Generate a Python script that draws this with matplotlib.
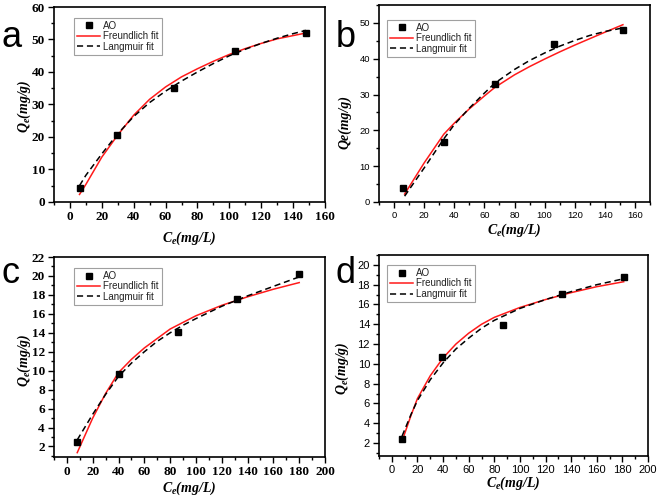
import matplotlib
matplotlib.use('Agg')
import matplotlib.pyplot as plt
from matplotlib.ticker import MultipleLocator

plt.rcParams['mathtext.fontset'] = 'custom'
plt.rcParams['mathtext.it'] = 'Liberation Serif:bold:italic'
plt.rcParams['mathtext.rm'] = 'Liberation Serif:bold'

# measured points (AO)
a_x = [6, 29.5, 65, 103.5, 148]
a_y = [4.3, 20.5, 35, 46.5, 52]
b_x = [6, 33, 67, 106, 152]
b_y = [3.8, 16.8, 33, 44, 48]
c_x = [7.5, 40, 86, 132, 180]
c_y = [2.5, 9.7, 14.1, 17.6, 20.2]
d_x = [8, 39.5, 86.5, 133, 181]
d_y = [2.4, 10.7, 13.9, 17.1, 18.8]

# fit curves
a_fx = [6, 10, 20, 30, 40, 50, 60, 70, 80, 90, 100, 110, 120, 130, 140, 148]
a_fre = [2.3, 5.4, 13.8, 20.6, 26.7, 31.6, 35.4, 38.5, 41.0, 43.3, 45.4, 47.2, 48.8, 50.2, 51.2, 52.0]
a_lan = [5.0, 8.2, 14.8, 21.0, 26.3, 30.6, 34.1, 37.2, 40.0, 42.6, 45.0, 47.0, 48.8, 50.4, 51.8, 52.8]

b_fx = [7, 20, 33, 40, 50, 60, 67, 80, 90, 100, 110, 120, 130, 140, 152]
b_fre = [2.2, 10.9, 18.9, 22.0, 26.0, 29.6, 32.0, 35.5, 37.8, 39.9, 41.9, 43.8, 45.6, 47.4, 49.5]
b_lan = [1.6, 9.5, 17.6, 21.6, 26.2, 30.4, 33.2, 37.0, 39.5, 41.6, 43.5, 45.1, 46.5, 47.6, 48.6]

c_fx = [8, 20, 30, 40, 50, 60, 70, 80, 90, 100, 120, 140, 160, 180]
c_fre = [1.35, 5.0, 7.6, 9.8, 11.2, 12.4, 13.4, 14.4, 15.1, 15.8, 16.9, 17.8, 18.6, 19.3]
c_lan = [2.7, 5.4, 7.5, 9.4, 10.8, 12.0, 13.1, 14.0, 14.8, 15.5, 16.8, 17.9, 18.9, 19.9]

d_fx = [8, 15, 20, 30, 40, 50, 60, 70, 80, 90, 100, 120, 140, 160, 181]
d_fre = [2.2, 4.8, 6.5, 8.8, 10.6, 12.0, 13.1, 14.0, 14.7, 15.2, 15.7, 16.5, 17.2, 17.8, 18.3]
d_lan = [2.7, 4.9, 6.3, 8.4, 10.1, 11.5, 12.6, 13.6, 14.4, 15.0, 15.6, 16.5, 17.3, 18.0, 18.6]

# letter, axes rect, data, xlim, ylim, y ticks, tick font, ylabel, legend anchor,
# letter position, ylabel coords, xlabel coords
panels = [
    ('a', [0.0817, 0.597, 0.41, 0.389], a_x, a_y, a_fx, a_fre, a_lan,
     (-10, 160), (0, 60), 10, 5, ('serif', 9.5), r'$Q_e$(mg/g)', (0.074, 0.944),
     (0.002, 0.906), (-0.111, 0.49), (0.5, -0.185)),
    ('b', [0.5734, 0.597, 0.41, 0.393], b_x, b_y, b_fx, b_fre, b_lan,
     (-10, 170), (0, 55), 10, 5, ('sans', 6.8), 'Qe(mg/g)', (0.03, 0.924),
     (0.508, 0.906), (-0.127, 0.406), (0.5, -0.142)),
    ('c', [0.0817, 0.088, 0.41, 0.399], c_x, c_y, c_fx, c_fre, c_lan,
     (-10, 200), (0.9, 22), 2, 1, ('serif', 9.5), r'$Q_e$(mg/g)', (0.074, 0.945),
     (0.002, 0.435), (-0.111, 0.485), (0.5, -0.155)),
    ('d', [0.5734, 0.090, 0.407, 0.401], d_x, d_y, d_fx, d_fre, d_lan,
     (-10, 200), (0.7, 21), 2, 1, ('sans', 8), r'$Q_e$(mg/g)', (0.03, 0.95),
     (0.508, 0.435), (-0.136, 0.438), (0.5, -0.135)),
]

fig = plt.figure(figsize=(6.61, 5.01), dpi=100)

for (letter, pos, px, py, fx, fre, lan, xl, yl, ymaj, ymin, tfont, ylab, legpos,
     letpos, ylc, xlc) in panels:
    ax = fig.add_axes(pos)
    ax.plot(px, py, 's', color='black', ms=4, label='AO', zorder=3)
    ax.plot(fx, fre, '-', color='#ff1a1a', lw=1.1, label='Freundlich fit')
    ax.plot(fx, lan, '--', color='black', lw=1.1, dashes=(4, 2.5), label='Langmuir fit')
    ax.set_xlim(*xl)
    ax.set_ylim(*yl)
    ax.xaxis.set_major_locator(MultipleLocator(20))
    ax.xaxis.set_minor_locator(MultipleLocator(10))
    ax.yaxis.set_major_locator(MultipleLocator(ymaj))
    ax.yaxis.set_minor_locator(MultipleLocator(ymin))
    ax.tick_params(which='both', direction='out', top=False, right=False, width=1.0, pad=2.5)
    ax.tick_params(which='major', length=4)
    ax.tick_params(which='minor', length=2.5)
    for s in ax.spines.values():
        s.set_linewidth(1.2)
    for lab in ax.get_xticklabels() + ax.get_yticklabels():
        if tfont[0] == 'serif':
            lab.set_family('Liberation Serif')
            lab.set_fontweight('bold')
        else:
            lab.set_family('Liberation Sans')
        lab.set_fontsize(tfont[1])
    ax.set_xlabel(r'$C_e$(mg/L)', family='Liberation Serif', style='italic',
                  weight='bold', fontsize=10)
    ax.set_ylabel(ylab, family='Liberation Serif', style='italic',
                  weight='bold', fontsize=10)
    ax.xaxis.set_label_coords(*xlc)
    ax.xaxis.label.set_va('center')
    ax.yaxis.set_label_coords(*ylc)
    ax.yaxis.label.set_va('center')
    leg = ax.legend(loc='upper left', bbox_to_anchor=legpos, borderaxespad=0,
                    fancybox=False, frameon=True,
                    prop={'family': 'Liberation Sans', 'size': 7},
                    handlelength=2.4, handletextpad=0.3, labelspacing=0.05,
                    borderpad=0.3, numpoints=1)
    for t in leg.get_texts():
        t.set_color('#222222')
    leg.get_frame().set_edgecolor('#888888')
    leg.get_frame().set_linewidth(0.8)
    fig.text(letpos[0], letpos[1], letter, family='Liberation Sans', fontsize=26,
             va='baseline', ha='left')

fig.savefig('out.png', dpi=100)
